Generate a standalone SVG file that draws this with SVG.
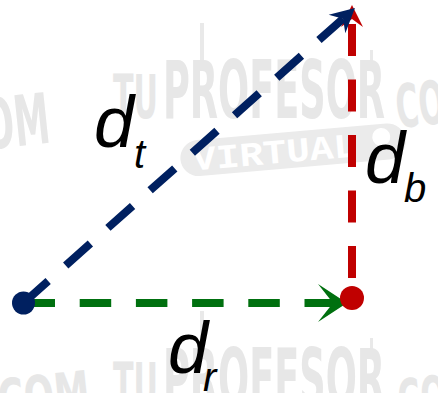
<svg xmlns="http://www.w3.org/2000/svg" width="438" height="393" viewBox="0 0 438 393">
  <style>
    .wm { fill: #e7e7e7; font-family: "Liberation Sans Narrow", "DejaVu Sans Condensed", "Liberation Sans", sans-serif; font-weight: bold; }
    .wm-bar { fill: #e9e9e9; }
    .wm-pill { fill: #ebebeb; }
    .wm-v { fill: #ffffff; font-family: "Liberation Mono", "DejaVu Sans Mono", monospace; font-weight: bold; }
    .lbl { font-family: "Liberation Sans", Arial, sans-serif; font-style: italic; fill: #000000; }
    .big { font-size: 72px; }
    .sub { font-size: 40px; }
    .vec { fill: none; stroke-width: 8; stroke-linecap: butt; }
  </style>
  <defs>
    <marker id="ahBlue" markerUnits="userSpaceOnUse" markerWidth="40" markerHeight="40" refX="0" refY="0" orient="auto" overflow="visible">
      <path d="M16,0 L-8,-12.5 L0,0 L-8,12.5 Z" fill="#002060"/>
    </marker>
    <marker id="ahRed" markerUnits="userSpaceOnUse" markerWidth="40" markerHeight="40" refX="0" refY="0" orient="auto" overflow="visible">
      <path d="M14,0 L-8,-11 L0,0 L-8,11 Z" fill="#c00000"/>
    </marker>
    <marker id="ahGreen" markerUnits="userSpaceOnUse" markerWidth="40" markerHeight="40" refX="0" refY="0" orient="auto" overflow="visible">
      <path d="M14,0 L-15,-19 L0,0 L-15,19 Z" fill="#00700f"/>
    </marker>
  </defs>

  <rect x="0" y="0" width="438" height="393" fill="#ffffff"/>

  <g id="watermark">
    <rect class="wm-bar" x="200" y="23" width="4" height="40"/>
    <rect class="wm-bar" x="370" y="50" width="3" height="12"/>
    <text class="wm" x="113" y="118" font-size="60" textLength="45" lengthAdjust="spacingAndGlyphs">TU</text>
    <text class="wm" x="163" y="118" font-size="81" textLength="222" lengthAdjust="spacingAndGlyphs">PROFESOR</text>
    <g transform="rotate(-5 290 150)">
      <rect class="wm-pill" x="180" y="132" width="226" height="36" rx="18"/>
      <text class="wm-v" x="192" y="162" font-size="34" textLength="165" lengthAdjust="spacingAndGlyphs">VIRTUAL</text>
      <circle cx="382" cy="145" r="9" fill="#ffffff"/>
    </g>
    <text class="wm" x="-40" y="148" font-size="70" textLength="92" lengthAdjust="spacingAndGlyphs" transform="rotate(-6 0 148)">COM</text>
    <text class="wm" x="398" y="128" font-size="60" textLength="80" lengthAdjust="spacingAndGlyphs" transform="rotate(-6 398 128)">COM</text>
    <rect class="wm-bar" x="200" y="311" width="4" height="40"/>
    <rect class="wm-bar" x="370" y="338" width="3" height="12"/>
    <text class="wm" x="113" y="406" font-size="60" textLength="45" lengthAdjust="spacingAndGlyphs">TU</text>
    <text class="wm" x="163" y="406" font-size="81" textLength="222" lengthAdjust="spacingAndGlyphs">PROFESOR</text>
    <text class="wm" x="0" y="420" font-size="56" textLength="92" lengthAdjust="spacingAndGlyphs" transform="rotate(-6 0 420)">COM</text>
    <text class="wm" x="400" y="420" font-size="56" textLength="80" lengthAdjust="spacingAndGlyphs" transform="rotate(-6 400 420)">COM</text>
  </g>

  <g id="connectors">
    <line id="d_r" class="vec" x1="23.5" y1="303" x2="333" y2="303" stroke="#00700f" stroke-dasharray="31.5 24.7" marker-end="url(#ahGreen)"/>
    <line id="d_b" class="vec" x1="352" y1="298" x2="352" y2="19" stroke="#c00000" stroke-width="8.5" stroke-dasharray="32 23.5" stroke-dashoffset="35.5" marker-end="url(#ahRed)"/>
    <line id="d_t" class="vec" x1="23.5" y1="303" x2="343" y2="18.7" stroke="#002060" stroke-dasharray="33 23.5" marker-end="url(#ahBlue)"/>
  </g>

  <g id="origin">
    <circle cx="23.5" cy="303" r="11.5" fill="#002060"/>
  </g>
  <g id="endpoint">
    <circle cx="352" cy="298" r="12" fill="#c00000"/>
  </g>

  <g id="label-dt">
    <text class="lbl big" x="94" y="147">d</text>
    <text class="lbl sub" x="134" y="168">t</text>
  </g>
  <g id="label-db">
    <text class="lbl big" x="365" y="183">d</text>
    <text class="lbl sub" x="404" y="202">b</text>
  </g>
  <g id="label-dr">
    <text class="lbl big" x="168" y="373">d</text>
    <text class="lbl sub" x="203" y="391">r</text>
  </g>
</svg>
